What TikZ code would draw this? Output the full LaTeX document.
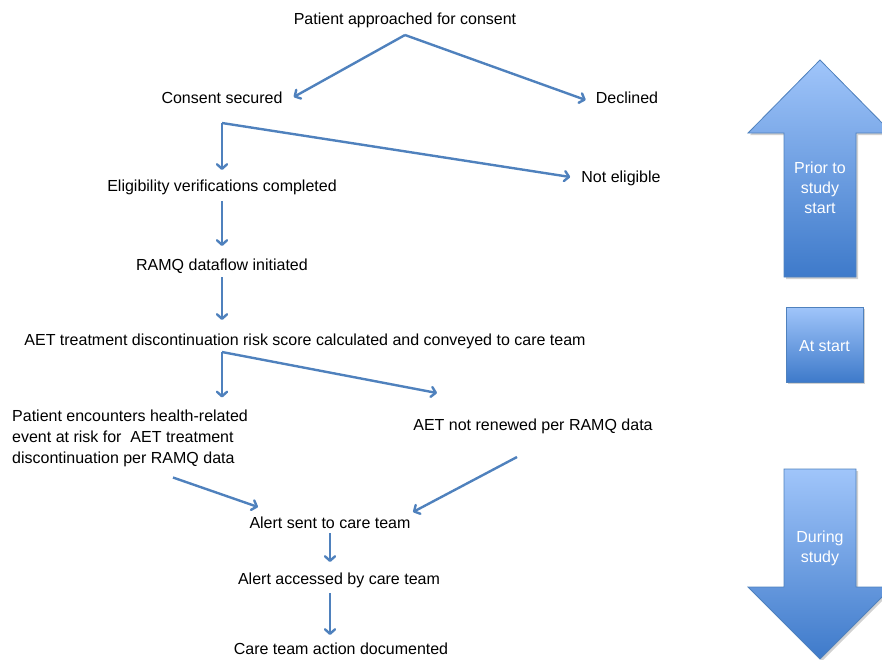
\documentclass[tikz,border=0pt]{standalone}
\usepackage{fontspec}
\setmainfont{Liberation Sans}
\usetikzlibrary{arrows.meta}
\definecolor{linkblue}{RGB}{79,129,189}
\definecolor{gradtop}{RGB}{160,197,250}
\definecolor{gradbot}{RGB}{62,122,202}
\tikzset{
  txt/.style={inner sep=0pt, font=\fontsize{16}{21}\selectfont, text height=11.5pt, text depth=3.5pt},
  conn/.style={draw=linkblue, line width=2.4pt, -{Straight Barb[length=4.5pt,width=10pt,line join=round,line cap=round]}},
  blockarrow/.style={top color=gradtop, bottom color=gradbot, draw=linkblue, line width=0.8pt},
  blockshadow/.style={fill=black, opacity=0.18},
  whitetxt/.style={text=white, align=center, font=\fontsize{16}{20}\selectfont}
}
\begin{document}
\begin{tikzpicture}[x=1pt,y=-1pt]
\useasboundingbox (0,0) rectangle (882,659);

% text nodes
\node[txt] (pac) at (405,20) {Patient approached for consent};
\node[txt] (cs) at (222,99) {Consent secured};
\node[txt] (dec) at (627,99) {Declined};
\node[txt] (elig) at (222,187) {Eligibility verifications completed};
\node[txt] (ne) at (621,178) {Not eligible};
\node[txt] (ramq) at (222,266) {RAMQ dataflow initiated};
\node[txt] (aet) at (305,341) {AET treatment discontinuation risk score calculated and conveyed to care team};
\node[inner sep=0pt, align=left, anchor=north west, font=\fontsize{16}{21}\selectfont] (pe) at (12,409.5)
  {Patient encounters health-related\\event at risk for\ \ AET treatment\\discontinuation per RAMQ data};
\node[txt] (aetn) at (533,426) {AET not renewed per RAMQ data};
\node[txt] (as) at (330,524) {Alert sent to care team};
\node[txt] (aa) at (339,580) {Alert accessed by care team};
\node[txt] (ca) at (341,650) {Care team action documented};

% fan-out points
\coordinate (f1) at (405,35);
\coordinate (f2) at (222,123);
\coordinate (f3) at (222,352);

% connectors
\draw[conn] (f1) -- ([xshift=11pt,yshift=2pt]cs.east);
\draw[conn] (f1) -- ([xshift=-10pt,yshift=-1pt]dec.west);
\draw[conn] (f2) -- ([yshift=17pt]elig.center);
\draw[conn] (f2) -- ([xshift=-11pt,yshift=1pt]ne.west);
\draw[conn] ([yshift=-14pt]elig.center) -- ([yshift=20pt]ramq.center);
\draw[conn] ([yshift=-11pt]ramq.center) -- ([yshift=21pt]ramq.center |- aet.center);
\draw[conn] (f3) -- ([yshift=12pt]f3 |- pe.north);
\draw[conn] (f3) -- ([xshift=-96pt,yshift=33pt]aetn.center);
\draw[conn] ([xshift=161pt,yshift=-68pt]pe.north west) -- ([xshift=-72pt,yshift=17pt]as.center);
\draw[conn] ([xshift=-16pt,yshift=-31pt]aetn.center) -- ([xshift=83pt,yshift=12pt]as.center);
\draw[conn] ([yshift=-9pt]as.center) -- ([xshift=-9pt,yshift=18pt]aa.center);
\draw[conn] ([xshift=-9pt,yshift=-13pt]aa.center) -- ([xshift=-11pt,yshift=15pt]ca.center);

% block arrows - shadows
\fill[blockshadow] (822,62) -- (894,135) -- (858,135) -- (858,279) -- (786,279) -- (786,135) -- (750,135) -- cycle;
\fill[blockshadow] (788,309) rectangle (865,384);
\fill[blockshadow] (786,471) -- (858,471) -- (858,589) -- (894,589) -- (822,661) -- (750,589) -- (786,589) -- cycle;

% up arrow
\shade[blockarrow] (820,60) -- (892,133) -- (856,133) -- (856,277) -- (784,277) -- (784,133) -- (748,133) -- cycle;
\node[whitetxt] (prior) at (820,188) {Prior to\\study\\start};
% box
\shade[blockarrow] (786,307) rectangle (863,382);
\node[whitetxt] (atstart) at (824.5,346) {At start};
% down arrow
\shade[blockarrow] (784,469) -- (856,469) -- (856,587) -- (892,587) -- (820,659) -- (748,587) -- (784,587) -- cycle;
\node[whitetxt] (during) at (820,548) {During\\study};
\end{tikzpicture}
\end{document}
